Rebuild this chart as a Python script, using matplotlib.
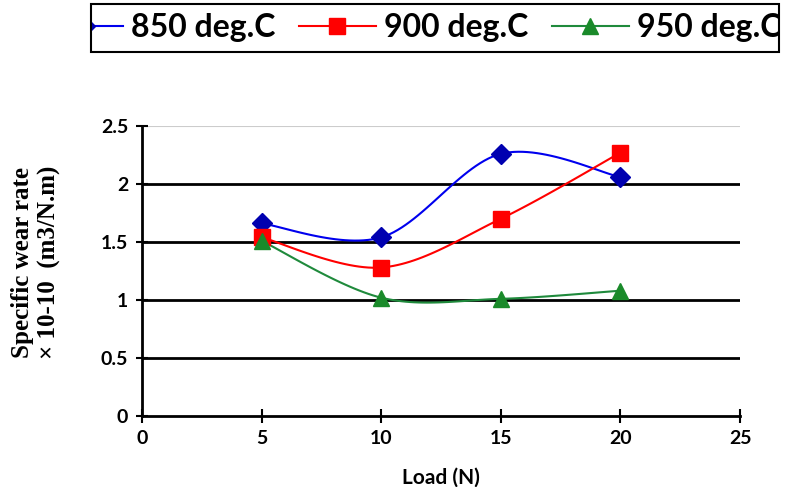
import numpy as np
import matplotlib
matplotlib.use("Agg")
import matplotlib.pyplot as plt
from matplotlib.lines import Line2D
from matplotlib.patches import Rectangle

load = [5, 10, 15, 20]
s850 = [1.66, 1.54, 2.26, 2.06]
s900 = [1.54, 1.28, 1.70, 2.27]
s950 = [1.51, 1.02, 1.01, 1.08]
labels = ["850 deg.C", "900 deg.C", "950 deg.C"]
colors = ["#0000ee", "#ff0000", "#1f8a3c"]
mcolors = ["#0000b0", "#ff0000", "#1a8a2a"]
markers = ["D", "s", "^"]

W, H = 791, 487
fig = plt.figure(figsize=(W/100, H/100), dpi=100)
ax = fig.add_axes([142/W, 1-416/H, (740-142)/W, (416-126)/H])
ax.set_xlim(0, 25)
ax.set_ylim(0, 2.5)

def smooth(xs, ys, sx=600/25, sy=290/2.5, n=30):
    px = np.array(xs, float) * sx
    py = np.array(ys, float) * sy
    P = np.column_stack([px, py])
    out = []
    for i in range(len(P) - 1):
        p0 = P[i-1] if i > 0 else P[i]
        p1, p2 = P[i], P[i+1]
        p3 = P[i+2] if i + 2 < len(P) else P[i+1]
        c1 = p1 + (p2 - p0) / 6
        c2 = p2 - (p3 - p1) / 6
        t = np.linspace(0, 1, n)[:, None]
        seg = (1-t)**3*p1 + 3*(1-t)**2*t*c1 + 3*(1-t)*t**2*c2 + t**3*p2
        out.append(seg if i == 0 else seg[1:])
    out = np.vstack(out)
    return out[:, 0] / sx, out[:, 1] / sy

for y in [0.5, 1.0, 1.5, 2.0]:
    ax.axhline(y, color="black", lw=2, zorder=1)
ax.axhline(2.5, color="#cccccc", lw=1.5, zorder=1)

series = [s850, s900, s950]
for ys, c, mc, m in zip(series, colors, mcolors, markers):
    sx_, sy_ = smooth(load, ys)
    ax.plot(sx_, sy_, color=c, lw=1.5, zorder=3)
    ax.plot(load, ys, ls="none", marker=m, ms=11 if m != "D" else 10,
            color=mc, zorder=4)

for side in ["top", "right"]:
    ax.spines[side].set_visible(False)
for side in ["left", "bottom"]:
    ax.spines[side].set_color("black")
    ax.spines[side].set_linewidth(2)

ax.set_xticks([0, 5, 10, 15, 20, 25])
ax.set_yticks([0, 0.5, 1, 1.5, 2, 2.5])
ax.set_yticklabels(["0", "0.5", "1", "1.5", "2", "2.5"])
ax.tick_params(axis="x", direction="inout", length=10, width=1.5, pad=5,
               labelsize=14)
ax.tick_params(axis="y", direction="inout", length=8, width=1.5, pad=6,
               labelsize=14)
for lab in ax.get_xticklabels() + ax.get_yticklabels():
    lab.set_fontweight("bold")
    lab.set_family("Lato")

ax.set_xlabel("Load (N)", fontsize=15, fontweight="bold", family="Lato",
              labelpad=15)
ax.set_ylabel("Specific wear rate\n× 10-10  (m3/N.m)", fontsize=18,
              fontweight="bold", family="Liberation Serif", labelpad=26,
              linespacing=1.22)
ax.yaxis.set_label_coords(-0.135, 0.53)

handles = [Line2D([], [], color=c, lw=1.5, marker=m, ms=11, markerfacecolor=mc,
                  markeredgecolor=mc) for c, mc, m in zip(colors, mcolors, markers)]
leg = fig.legend(handles, labels, loc="center right",
                 bbox_to_anchor=(781/W, 1-28/H), ncol=3,
                 prop={"family": "Lato", "weight": "bold", "size": 23},
                 frameon=False,
                 handlelength=2.4, columnspacing=0.75, handletextpad=0.25,
                 borderpad=0.0, borderaxespad=0)
box = Rectangle((91/W, 1-52/H), (779-91)/W, 48/H, transform=fig.transFigure,
                fill=False, edgecolor="black", lw=1.5)
fig.add_artist(box)
clip = Rectangle((92/W, 1-52/H), (778-92)/W, 48/H, transform=fig.transFigure)
for a in leg.findobj():
    if a is not leg:
        a.set_clip_path(clip)

fig.savefig("out.png", dpi=100)
